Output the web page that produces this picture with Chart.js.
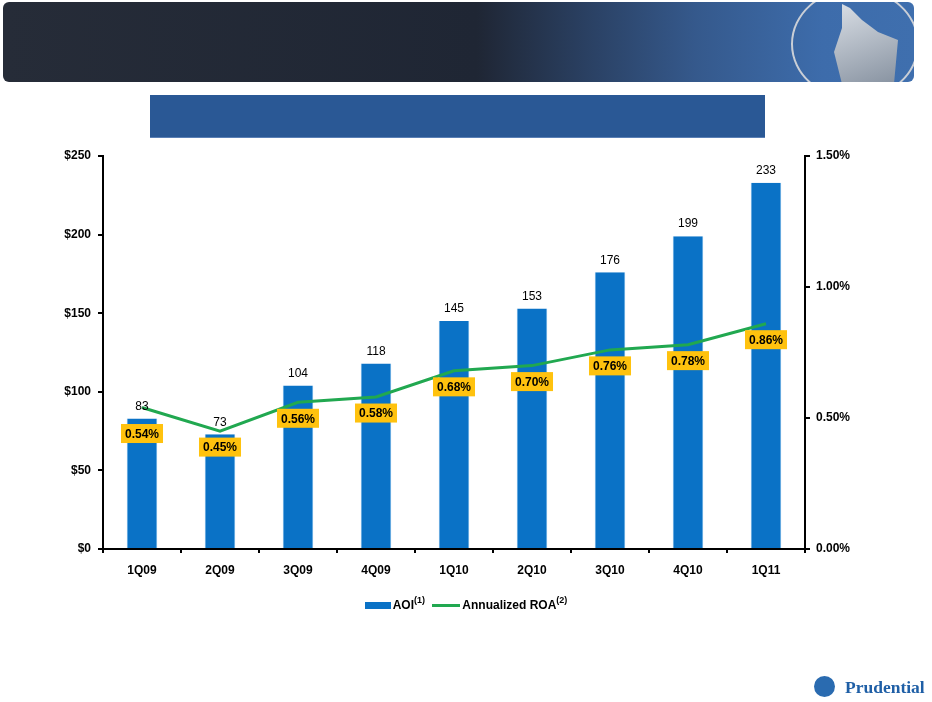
<!DOCTYPE html>
<html>
<head>
<meta charset="utf-8">
<script src="https://cdn.jsdelivr.net/npm/chart.js@4.4.0/dist/chart.umd.min.js"></script>
<style>
  html,body{margin:0;padding:0;background:#fff;width:932px;height:702px;overflow:hidden;font-family:'Liberation Sans',Arial,sans-serif;}
  #banner{position:absolute;left:3px;top:2px;width:911px;height:80px;border-radius:6px;
    background:linear-gradient(90deg,#262c38 0%,#1f2634 52%,#2a4062 64%,#35598c 76%,#3d6cab 90%,#3f6fae 100%);overflow:hidden;}
  #ring{position:absolute;left:788px;top:-14px;width:128px;height:112px;border-radius:50%;border:2px solid #c9ced6;box-sizing:border-box;}
  #rock{position:absolute;left:815px;top:2px;width:80px;height:80px;background:linear-gradient(160deg,#f0f0f0,#8f969f);
    clip-path:polygon(30% 0%,40% 5%,55% 20%,75% 35%,100% 45%,95% 100%,30% 100%,20% 60%,30% 30%);opacity:0.9;}
  #band{position:absolute;left:150px;top:95px;width:615px;height:42px;background:#2a5895;border-bottom:1px solid #5a7fb5;}
  #legend{position:absolute;left:0;top:598px;width:932px;text-align:center;font-weight:bold;font-size:12px;color:#000;}
  #legend span.sw{display:inline-block;vertical-align:middle;}
  sup{font-size:9px;vertical-align:6px;line-height:0;}
  #logo{position:absolute;left:845px;top:677px;font-family:'Liberation Serif','DejaVu Serif',serif;font-weight:bold;font-size:17.5px;color:#1f5fa6;}
  #logoicon{position:absolute;left:814px;top:676px;width:21px;height:21px;border-radius:50%;background:#2a6bb0;}
  canvas{position:absolute;left:0;top:0;}
</style>
</head>
<body>
<div id="banner"><div id="ring"></div><div id="rock"></div></div>
<div id="band"></div>
<canvas id="c" width="932" height="702"></canvas>
<div id="legend">
  <span class="sw" style="width:26px;height:7px;background:#0A72C6;margin-right:2px;"></span>AOI<sup>(1)</sup>
  <span class="sw" style="width:28px;height:3px;background:#21A850;margin:0 2px 0 4px;"></span>Annualized ROA<sup>(2)</sup>
</div>
<div id="logoicon"></div>
<div id="logo">Prudential</div>
<script>
const categories = ['1Q09','2Q09','3Q09','4Q09','1Q10','2Q10','3Q10','4Q10','1Q11'];
const aoiValues = [83,73,104,118,145,153,176,199,233];
const roaValues = [0.54,0.45,0.56,0.58,0.68,0.70,0.76,0.78,0.86];
const leftTicks = [0,50,100,150,200,250];
const rightTicks = [0,0.5,1.0,1.5];

const FONT = "'Liberation Sans', Arial, sans-serif";

const labelPlugin = {
  id:'labels',
  afterDatasetsDraw(chart){
    const ctx = chart.ctx;
    ctx.save();
    const barMeta = chart.getDatasetMeta(0);
    ctx.font = "12px " + FONT;
    ctx.fillStyle = '#000';
    ctx.textAlign = 'center';
    ctx.textBaseline = 'middle';
    barMeta.data.forEach((el,i)=>{
      ctx.fillText(String(aoiValues[i]), el.x, el.y - 12);
    });
    const lineMeta = chart.getDatasetMeta(1);
    ctx.font = "bold 12px " + FONT;
    lineMeta.data.forEach((el,i)=>{
      const txt = roaValues[i].toFixed(2) + '%';
      const w = ctx.measureText(txt).width + 8;
      const h = 19;
      let cy = el.y + 16;
      const barTop = barMeta.data[i].y - 12;
      if (Math.abs(el.y - barTop) < 6) cy = el.y + 26;
      ctx.fillStyle = '#FFC20E';
      ctx.fillRect(el.x - w/2, cy - h/2, w, h);
      ctx.fillStyle = '#000';
      ctx.fillText(txt, el.x, cy + 1);
    });
    ctx.restore();
  }
};

new Chart(document.getElementById('c'), {
  data:{
    labels: categories,
    datasets:[
      {type:'bar', label:'AOI', data: aoiValues, yAxisID:'y', backgroundColor:'#0A72C6', borderColor:'#5AA5E0', borderWidth:{left:1,right:1,top:0,bottom:0}, barPercentage:0.78, categoryPercentage:0.5, order:1},
      {type:'line', label:'Annualized ROA', data: roaValues, yAxisID:'y1', borderColor:'#21A850', borderWidth:3, pointRadius:0, tension:0, fill:false, order:0}
    ]
  },
  options:{
    responsive:false,
    animation:false,
    layout:{padding:{top:156,left:0,right:0,bottom:0}},
    plugins:{legend:{display:false}, tooltip:{enabled:false}},
    scales:{
      x:{
        grid:{drawOnChartArea:false, color:'#000', lineWidth:2, tickLength:4, offset:true},
        border:{color:'#000', width:2},
        ticks:{color:'#000', font:{family:FONT, size:12, weight:'bold'}, padding:10},
        afterFit(s){ s.height = 702 - 549; }
      },
      y:{
        position:'left', min:0, max:250,
        afterBuildTicks(s){ s.ticks = leftTicks.map(v=>({value:v})); },
        grid:{drawOnChartArea:false, color:'#000', lineWidth:2, tickLength:5},
        border:{color:'#000', width:2},
        ticks:{color:'#000', font:{family:FONT, size:12, weight:'bold'}, padding:7, callback:v=>'$'+v},
        afterFit(s){ s.width = 103; }
      },
      y1:{
        position:'right', min:0, max:1.5,
        afterBuildTicks(s){ s.ticks = rightTicks.map(v=>({value:v})); },
        grid:{drawOnChartArea:false, color:'#000', lineWidth:2, tickLength:5},
        border:{color:'#000', width:2},
        ticks:{color:'#000', font:{family:FONT, size:12, weight:'bold'}, padding:6, callback:v=>v.toFixed(2)+'%'},
        afterFit(s){ s.width = 932 - 805; }
      }
    }
  },
  plugins:[labelPlugin]
});
</script>
</body>
</html>
